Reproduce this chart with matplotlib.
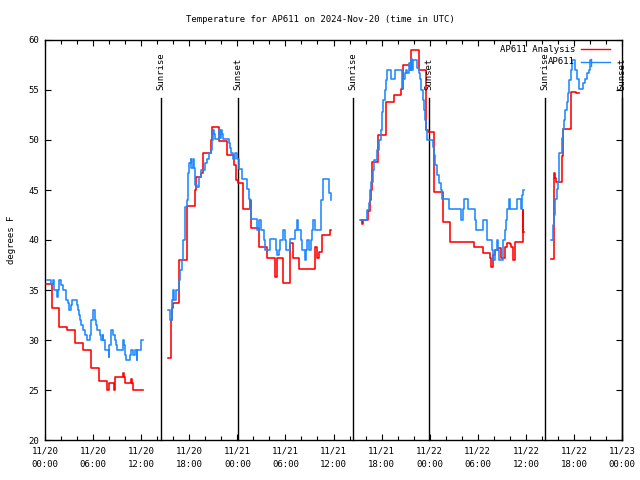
import matplotlib
matplotlib.use("Agg")
import matplotlib.pyplot as plt
from matplotlib.lines import Line2D
import numpy as np

plt.rcParams['font.family'] = ['DejaVu Sans Mono']

title = "Temperature for AP611 on 2024-Nov-20 (time in UTC)"
ylabel = "degrees F"
xtick_hours = [0, 6, 12, 18, 24, 30, 36, 42, 48, 54, 60, 66, 72]
xtick_labels = ["11/20\n00:00", "11/20\n06:00", "11/20\n12:00", "11/20\n18:00",
                "11/21\n00:00", "11/21\n06:00", "11/21\n12:00", "11/21\n18:00",
                "11/22\n00:00", "11/22\n06:00", "11/22\n12:00", "11/22\n18:00",
                "11/23\n00:00"]
yticks = [20, 25, 30, 35, 40, 45, 50, 55, 60]

sun_hours = [14.47, 24.05, 38.45, 47.95, 62.4, 72.0]
sun_labels = ["Sunrise", "Sunset", "Sunrise", "Sunset", "Sunrise", "Sunset"]

# hours since 11/20 00:00 UTC and temperatures (step data)
red_t1 = [0.1, 0.84, 1.78, 2.78, 3.78, 4.78, 5.78, 6.78, 7.78, 7.95, 8.61, 8.78, 9.69, 9.86,
          10.02, 10.78, 10.9, 11.02, 12.19]
red_v1 = [35.6, 33.2, 31.3, 31.0, 29.7, 29.0, 27.2, 25.9, 25.0, 25.7, 25.0, 26.3, 26.7, 26.3,
          25.7, 26.1, 25.7, 25.0, 25.0]

red_t2 = [15.39, 15.72, 15.85, 16.03, 16.76, 17.68, 18.76, 18.84, 19.51, 19.76, 20.67, 20.84,
          21.75, 22.75, 23.6, 23.85, 24.05, 24.75, 25.58, 25.75, 26.66, 27.66, 28.66, 28.99,
          29.66, 30.57, 30.9, 31.74, 33.65, 33.9, 34.23, 34.57, 35.56, 35.73]
red_v2 = [28.2, 32.0, 33.2, 33.7, 38.0, 43.4, 45.0, 46.3, 46.7, 48.7, 50.0, 51.3,
          49.9, 48.5, 47.5, 46.0, 45.7, 43.1, 44.0, 41.2, 39.3, 38.2, 36.3, 38.2,
          35.7, 39.7, 38.2, 37.1, 39.3, 38.2, 38.8, 40.5, 41.0, 41.0]

red_t3 = [39.45, 39.55, 39.7, 40.3, 40.55, 40.64, 40.8, 41.55, 42.55, 43.55, 44.47, 44.64,
          45.54, 45.71, 46.63, 47.54, 47.75, 48.6, 49.67, 50.54, 53.5, 54.7, 55.5, 55.7,
          55.86, 56.1, 56.53, 56.9, 57.4, 57.6, 58.03, 58.2, 58.36, 58.61, 59.6, 59.69, 59.77]
red_v3 = [42.0, 41.6, 42.0, 42.9, 44.0, 45.0, 47.8, 50.5, 53.8, 54.5, 55.1, 57.5,
          57.0, 59.0, 57.0, 51.0, 50.8, 44.8, 41.8, 39.8, 39.3, 38.7, 38.2, 37.3,
          38.5, 39.0, 39.2, 38.2, 39.3, 39.7, 39.6, 39.3, 38.0, 39.8, 43.0, 40.8, 40.8]

red_t4 = [63.18, 63.51, 63.6, 63.76, 64.51, 64.68, 65.59, 65.68, 66.26, 66.59]
red_v4 = [38.1, 46.7, 46.2, 45.8, 48.4, 51.1, 53.0, 54.8, 54.7, 54.7]

blue_t1 = [0.21, 0.71, 0.96, 1.12, 1.46, 1.62, 1.71, 2.04, 2.20, 2.62, 2.87, 3.04, 3.29, 3.37,
           3.95, 4.12, 4.28, 4.37, 4.53, 4.70, 5.03, 5.28, 5.62, 5.78, 5.95, 6.20, 6.28, 6.36,
           6.45, 6.86, 7.03, 7.20, 7.28, 7.45, 7.53, 7.95, 8.03, 8.20, 8.28, 8.53, 8.69, 8.86,
           8.94, 9.69, 9.86, 10.02, 10.11, 10.61, 10.78, 11.02, 11.19, 11.44, 11.52, 12.02, 12.19]
blue_v1 = [36.0, 35.6, 36.0, 35.0, 34.3, 35.0, 36.0, 35.5, 35.0, 34.0, 33.7, 33.0, 33.5, 34.0,
           33.5, 33.0, 32.5, 32.0, 31.5, 31.0, 30.5, 30.0, 30.5, 32.0, 33.0, 32.5, 32.0, 31.5,
           31.0, 30.5, 30.0, 30.5, 30.0, 29.5, 29.0, 28.3, 29.5, 30.5, 31.0, 30.5, 30.0, 29.5,
           29.0, 30.0, 29.5, 28.5, 28.0, 28.5, 29.0, 28.5, 29.0, 28.0, 29.0, 30.0, 30.0]

blue_t2 = [15.39, 15.55, 15.8, 15.95, 16.05, 16.39, 16.72, 16.9, 17.07, 17.26, 17.51, 17.68,
           17.84, 18.01, 18.17, 18.26, 18.43, 18.59, 18.68, 19.01, 19.18, 19.51, 19.92, 20.17,
           20.42, 20.67, 20.84, 20.92, 21.09, 21.25, 21.67, 21.84, 21.95, 22.09, 22.25, 22.92,
           23.09, 23.25, 23.42, 23.75, 24.0, 24.17, 24.58, 25.25, 25.42, 25.58, 25.75, 26.41,
           26.5, 26.74, 26.91, 27.33, 27.49, 28.08, 28.83, 28.99, 29.16, 29.32, 29.74, 29.91,
           30.07, 30.57, 31.24, 31.4, 31.57, 31.9, 32.07, 32.4, 32.57, 32.65, 32.9, 33.15,
           33.32, 33.4, 33.73, 34.48, 34.65, 35.48, 35.65, 35.73]
blue_v2 = [33.0, 32.0, 34.0, 35.0, 34.0, 35.0, 36.0, 37.0, 38.0, 40.0, 43.3, 44.0,
           46.7, 47.7, 48.1, 47.2, 48.1, 47.2, 45.5, 45.3, 46.3, 47.0, 47.7, 48.1,
           48.7, 49.0, 50.0, 51.0, 50.6, 50.1, 51.0, 50.2, 51.0, 50.6, 50.1, 49.7,
           49.2, 48.7, 48.1, 48.7, 48.1, 47.1, 46.1, 45.1, 44.1, 43.1, 42.1, 42.0,
           41.0, 42.0, 41.0, 40.0, 39.0, 40.1, 39.0, 38.5, 39.0, 40.0, 41.0, 40.0,
           39.0, 40.1, 41.0, 42.0, 41.0, 40.0, 39.0, 38.0, 39.0, 40.0, 39.0, 40.0,
           41.0, 42.0, 41.0, 44.0, 46.1, 44.7, 44.0, 44.0]

blue_t3 = [39.31, 40.22, 40.39, 40.55, 40.72, 40.89, 41.05, 41.39, 41.72, 41.88, 42.05, 42.22,
           42.38, 42.55, 42.72, 43.13, 43.72, 44.55, 44.71, 44.88, 45.05, 45.21, 45.38, 45.54,
           45.71, 45.8, 45.96, 46.38, 46.63, 46.79, 46.96, 47.13, 47.29, 47.38, 47.54, 47.71,
           48.38, 48.54, 48.71, 48.96, 49.13, 49.38, 49.54, 50.46, 51.95, 52.12, 52.29, 52.78,
           53.62, 53.78, 54.61, 55.11, 55.19, 55.78, 55.95, 56.2, 56.36, 56.53, 56.61, 57.19,
           57.36, 57.52, 57.69, 57.86, 58.03, 58.86, 59.44, 59.52, 59.61, 59.77]
blue_v3 = [42.0, 43.0, 43.7, 45.0, 45.8, 47.0, 48.0, 49.0, 50.0, 51.0, 52.8, 54.0,
           55.0, 56.0, 57.0, 56.1, 57.0, 55.2, 56.1, 56.7, 57.0, 56.7, 57.7, 57.0,
           58.1, 57.0, 58.0, 57.2, 56.7, 56.1, 55.0, 54.0, 53.0, 52.0, 51.0, 50.0,
           49.3, 48.5, 47.5, 46.5, 45.7, 45.0, 44.1, 43.1, 42.0, 43.1, 44.1, 43.1,
           42.0, 41.0, 42.0, 41.0, 40.0, 39.0, 38.0, 39.0, 40.0, 39.0, 38.0, 40.0,
           41.0, 42.0, 43.1, 44.1, 43.1, 44.1, 43.1, 44.5, 45.0, 45.0]

blue_t4 = [63.18, 63.43, 63.51, 63.68, 63.85, 64.01, 64.18, 64.51, 64.68, 64.76, 64.93, 65.09,
           65.26, 65.43, 65.59, 65.76, 66.18, 66.34, 66.59, 66.68, 67.09, 67.43, 67.59, 67.84,
           68.01, 68.18]
blue_v4 = [40.0, 41.5, 42.5, 44.1, 45.1, 45.8, 48.7, 50.2, 51.1, 52.0, 53.0, 53.8,
           54.7, 56.0, 57.0, 58.0, 57.0, 56.1, 55.7, 55.1, 55.7, 56.1, 56.7, 57.0,
           58.0, 58.0]

RED = '#ff0000'
BLUE = '#1e88ff'
FS = 6.5
LW = 1.15

fig = plt.figure(figsize=(6.4, 4.8), dpi=100)
ax = fig.add_axes([45/640, 40/480, 577/640, 400/480])

for t, v in [(red_t1, red_v1), (red_t2, red_v2), (red_t3, red_v3), (red_t4, red_v4)]:
    ax.plot(t, v, color=RED, lw=LW, drawstyle='steps-post', zorder=3)
for t, v in [(blue_t1, blue_v1), (blue_t2, blue_v2), (blue_t3, blue_v3), (blue_t4, blue_v4)]:
    ax.plot(t, v, color=BLUE, lw=LW, drawstyle='steps-post', zorder=4)

ax.set_xlim(0, 72)
ax.set_ylim(20, 60)

for h, lab in zip(sun_hours, sun_labels):
    ax.plot([h, h], [20, 54.2], color='black', lw=1.0, zorder=2, clip_on=False)
    ax.text(h, 55.0, lab, rotation=90, ha='center', va='bottom', fontsize=FS, color='black')

ax.set_xticks(xtick_hours)
ax.set_xticklabels(xtick_labels, fontsize=FS, linespacing=1.6)
ax.set_xticks(np.arange(0, 73, 2), minor=True)
ax.set_yticks(yticks)
ax.set_yticklabels([str(y) for y in yticks], fontsize=FS)
ax.tick_params(axis='both', which='both', direction='in', top=True, right=True, width=0.8)
ax.tick_params(axis='both', which='major', length=4.5)
ax.tick_params(axis='both', which='minor', length=3)
ax.tick_params(axis='x', pad=5)
ax.tick_params(axis='y', pad=4)
for s in ax.spines.values():
    s.set_linewidth(1.0)

ax.set_ylabel(ylabel, fontsize=FS, labelpad=9)
fig.text(0.5, 1 - 19/480, title, ha='center', va='center', fontsize=FS)

# legend drawn gnuplot style
leg_items = [("AP611 Analysis", RED, 49), ("AP611", BLUE, 62)]
for lab, col, ypx in leg_items:
    fy = 1 - ypx/480
    fig.text(575/640, fy, lab, ha='right', va='center', fontsize=FS)
    fig.add_artist(Line2D([581/640, 610/640], [fy, fy], color=col, lw=1.0))
fig.add_artist(Line2D([591/640, 591/640], [1 - 58.5/480, 1 - 65.5/480], color=BLUE, lw=1.0))

fig.savefig('out.png', dpi=100)
